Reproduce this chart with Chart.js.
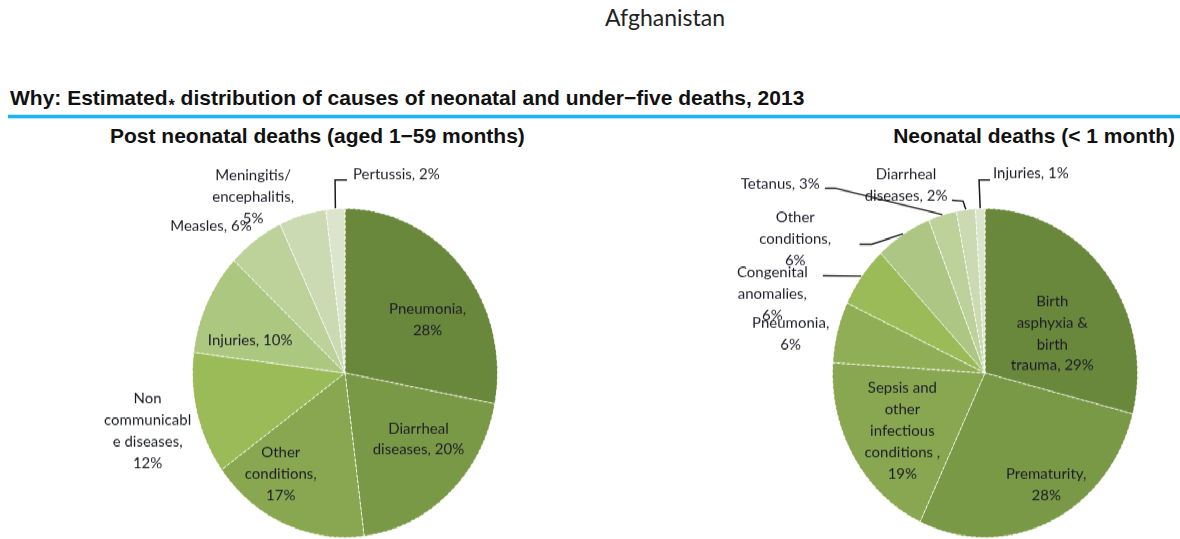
<!DOCTYPE html>
<html>
<head>
<meta charset="utf-8">
<script src="https://cdn.jsdelivr.net/npm/chart.js@4/dist/chart.umd.min.js"></script>
<style>
  html, body { margin:0; padding:0; background:#fff; }
  body { width:1180px; height:539px; position:relative; overflow:hidden; }
  .txt { position:absolute; white-space:nowrap; color:#111; }
  #country { left:0; width:1330px; text-align:center; top:6px; font:23px/23px Lato, "Open Sans", sans-serif; color:#222; }
  #heading { left:10px; top:87px; font:bold 21px/21px "Liberation Sans", Arial, sans-serif; }
  #heading .ast { font-size:16px; position:relative; top:6px; margin-left:1px; }
  #rule { position:absolute; left:8px; right:0; top:115px; height:3px; background:#1fb3ec; box-shadow:0 1px 1px #a8e2f8, 0 -1px 1px #bfe9fa; }
  .sub { top:125px; font:bold 21px/21px "Liberation Sans", Arial, sans-serif; }
  #subL { left:110px; }
  #subR { right:5px; }
  #stage { position:absolute; left:0; top:150px; width:1180px; height:361px; transform-origin:0 0; }
  .box { position:absolute; top:0; height:361px; }
  #boxL { left:0; width:600px; }
  #boxR { left:600px; width:580px; }
</style>
</head>
<body>
<div class="txt" id="country">Afghanistan</div>
<div class="txt" id="heading">Why: Estimated<span class="ast">*</span> distribution of causes of neonatal and under−five deaths, 2013</div>
<div id="rule"></div>
<div class="txt sub" id="subL">Post neonatal deaths (aged 1−59 months)</div>
<div class="txt sub" id="subR">Neonatal deaths (&lt; 1 month)</div>
<div id="stage">
  <div class="box" id="boxL"><canvas id="pieL"></canvas></div>
  <div class="box" id="boxR"><canvas id="pieR"></canvas></div>
</div>
<script>
// ---------- DATA ----------
const postNeonatalCauses = ["Pneumonia", "Diarrheal\ndiseases", "Other\nconditions", "Non\ncommunicabl\ne diseases", "Injuries", "Measles", "Meningitis/\nencephalitis", "Pertussis"];
const postNeonatalValues = [28, 20, 17, 12, 10, 6, 5, 2];
const postNeonatalSep = ["\n", " ", "\n", "\n", " ", " ", "\n", " "];

const neonatalCauses = ["Birth\nasphyxia &\nbirth\ntrauma", "Prematurity", "Sepsis and\nother\ninfectious\nconditions ", "Pneumonia", "Congenital\nanomalies", "Other\nconditions", "Tetanus", "Diarrheal\ndiseases", "Injuries"];
const neonatalValues = [29, 28, 19, 6, 6, 6, 3, 2, 1];
const neonatalSep = [" ", "\n", "\n", "\n", "\n", "\n", " ", " ", " "];

// ---------- STYLE / LAYOUT ----------
const K = 165 / 153; // vertical stretch of the ellipse-shaped pies
document.getElementById('stage').style.transform = 'scaleY(' + K + ')';

const colorsL = ["#6a883b", "#7a9946", "#88a750", "#9bbb59", "#acc77f", "#bdd29b", "#cbdab2", "#dce5cc"];
const colorsR = ["#6a883b", "#7a9946", "#88a750", "#8fae55", "#9bbb59", "#adc683", "#bdd29b", "#cbdab2", "#dce5cc"];

// label positions as offsets from pie centre in units of radius
const layoutL = [
  {pos:[0.54,-0.32]},
  {pos:[0.48,0.40]},
  {pos:[-0.42,0.61]},
  {pos:[-1.29,0.35]},
  {pos:[-0.62,-0.20]},
  {pos:[-0.61,-0.89], align:'right'},
  {pos:[-0.60,-1.07]},
  {pos:[0.052,-1.206], align:'left', leader:[[-0.065,-1.17],[0.013,-1.17]]}
];
const layoutR = [
  {pos:[0.44,-0.24]},
  {pos:[0.40,0.68]},
  {pos:[-0.54,0.35]},
  {pos:[-1.27,-0.24]},
  {pos:[-1.39,-0.48], leader:[[-1.06,-0.59]]},
  {pos:[-1.24,-0.81], leader:[[-0.74,-0.78],[-0.82,-0.78]]},
  {pos:[-1.08,-1.145], align:'right', leader:[[-0.98,-1.12],[-1.046,-1.12]]},
  {pos:[-0.516,-1.14], leader:[[-0.144,-1.042],[-0.216,-1.048]]},
  {pos:[0.052,-1.212], align:'left', leader:[[-0.039,-1.17],[0.033,-1.17]]}
];

function makeTexts(names, values, seps) {
  return names.map((n, i) => n + "," + seps[i] + values[i] + "%");
}

const sliceLabels = {
  id: 'sliceLabels',
  afterDatasetsDraw(chart, args, opts) {
    const ctx = chart.ctx;
    const meta = chart.getDatasetMeta(0);
    ctx.save();
    ctx.scale(1, 1 / K);
    meta.data.forEach((arc, i) => {
      const p = arc.getProps(['x','y','outerRadius','startAngle','endAngle'], true);
      const R = p.outerRadius + 0.5;
      const L = opts.layout[i];
      if (L.leader) {
        const mid = (p.startAngle + p.endAngle) / 2;
        ctx.beginPath();
        ctx.moveTo(p.x + Math.cos(mid) * R, (p.y + Math.sin(mid) * R) * K);
        L.leader.forEach(q => ctx.lineTo(p.x + q[0] * R, (p.y + q[1] * R) * K));
        ctx.strokeStyle = '#1a1a1a';
        ctx.lineWidth = 1.5;
        ctx.stroke();
      }
      const tx = p.x + L.pos[0] * R;
      const ty = (p.y + L.pos[1] * R) * K;
      const lines = opts.texts[i].split('\n');
      ctx.font = '15px Lato, "Open Sans", sans-serif';
      ctx.fillStyle = '#1c1c2a';
      ctx.textAlign = L.align || 'center';
      ctx.textBaseline = 'middle';
      const lh = 21.5;
      lines.forEach((ln, j) => ctx.fillText(ln, tx, ty + (j - (lines.length - 1) / 2) * lh));
    });
    ctx.restore();
  }
};

function pie(id, names, values, colors, layout, seps, pad) {
  return new Chart(document.getElementById(id), {
    type: 'pie',
    data: {
      labels: names,
      datasets: [{
        data: values,
        backgroundColor: colors,
        borderColor: 'rgba(255,255,255,0.85)',
        borderWidth: 1,
        borderDash: [3, 2]
      }]
    },
    options: {
      responsive: true,
      maintainAspectRatio: false,
      animation: false,
      events: [],
      layout: { padding: pad },
      plugins: {
        legend: { display: false },
        tooltip: { enabled: false },
        sliceLabels: { layout: layout, texts: makeTexts(names, values, seps) }
      }
    },
    plugins: [sliceLabels]
  });
}

pie('pieL', postNeonatalCauses, postNeonatalValues, colorsL, layoutL, postNeonatalSep,
    {top: 53.8, bottom: 1.2, left: 192, right: 102});
pie('pieR', neonatalCauses, neonatalValues, colorsR, layoutR, neonatalSep,
    {top: 53.8, bottom: 1.2, left: 232, right: 42});
</script>
</body>
</html>
